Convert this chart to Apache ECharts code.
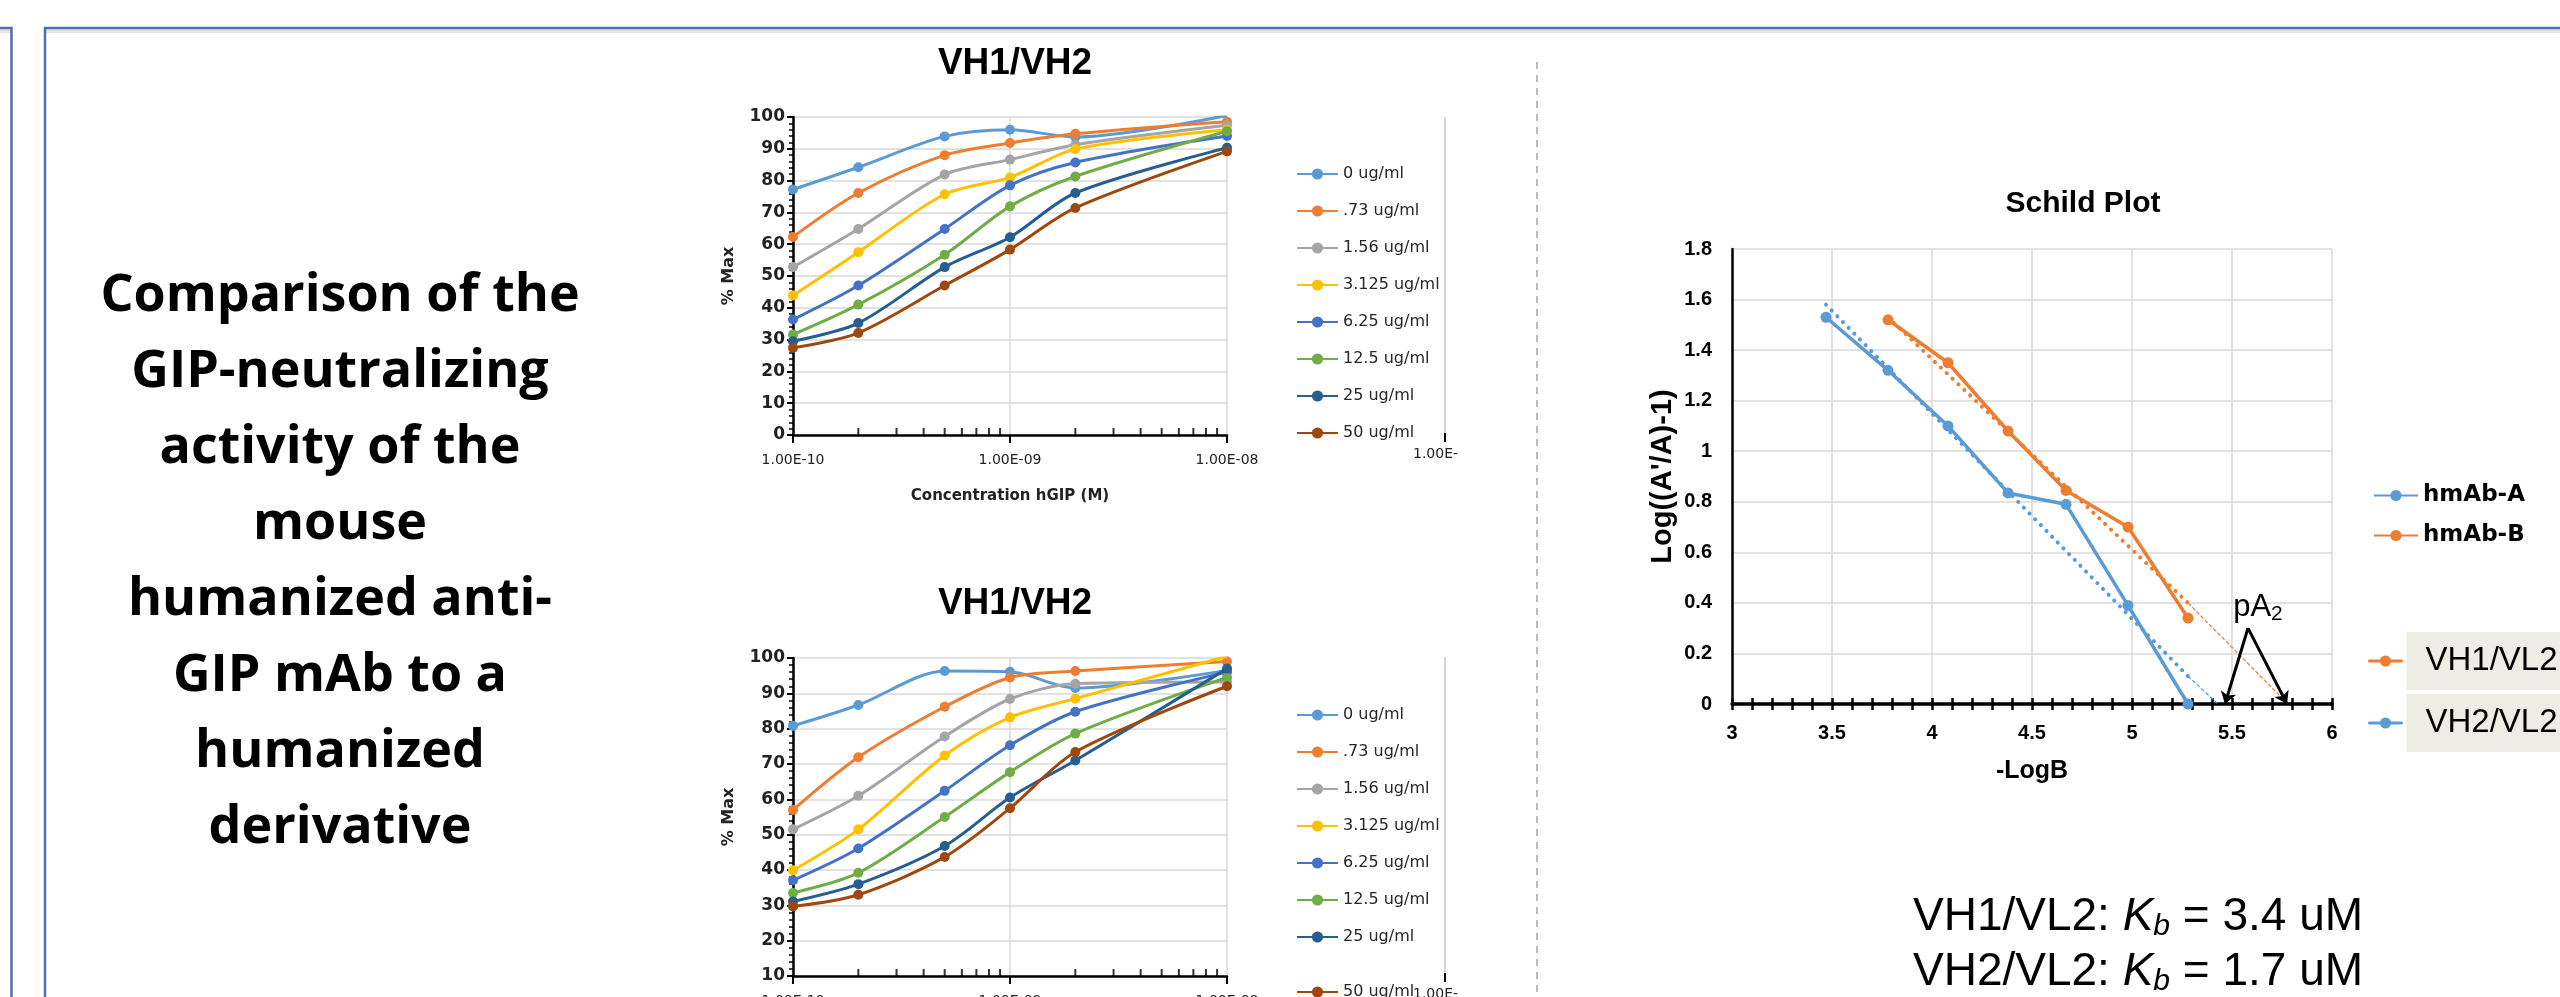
<!DOCTYPE html>
<html>
<head>
<meta charset="utf-8">
<script src="https://cdn.jsdelivr.net/npm/echarts@6/dist/echarts.min.js"></script>
<style>
  html, body { margin: 0; padding: 0; background: #fff; }
  #main { width: 2560px; height: 997px; }
</style>
</head>
<body>
<div id="main"></div>
<script>
// concentrations of hGIP (M) on the log axis
const concM = [1e-10, 2e-10, 5e-10, 1e-9, 2e-9, 1e-8];
const doseNames = ['0 ug/ml', '.73 ug/ml', '1.56 ug/ml', '3.125 ug/ml', '6.25 ug/ml', '12.5 ug/ml', '25 ug/ml', '50 ug/ml'];

// upper VH1/VH2 panel, % Max
const top_0 = [77.2, 84.2, 93.9, 96.0, 93.7, 100.5];
const top_073 = [62.3, 76.1, 88.0, 91.8, 94.7, 98.5];
const top_156 = [52.8, 64.8, 81.9, 86.6, 91.3, 97.4];
const top_3125 = [43.9, 57.5, 75.7, 81.0, 89.9, 96.0];
const top_625 = [36.3, 47.0, 64.8, 78.5, 85.7, 94.0];
const top_125 = [31.6, 41.0, 56.7, 71.9, 81.3, 95.5];
const top_25 = [29.5, 35.2, 52.8, 62.2, 76.1, 90.3];
const top_50 = [27.4, 32.1, 47.0, 58.3, 71.4, 89.2];

// lower VH1/VH2 panel, % Max
const bot_0 = [80.8, 86.7, 96.3, 96.1, 91.5, 96.5];
const bot_073 = [57.0, 71.9, 86.2, 94.5, 96.3, 99.0];
const bot_156 = [51.5, 61.0, 77.8, 88.4, 92.7, 93.2];
const bot_3125 = [39.9, 51.5, 72.4, 83.2, 88.5, 100.5];
const bot_625 = [37.1, 46.1, 62.4, 75.3, 84.8, 96.0];
const bot_125 = [33.5, 39.2, 55.0, 67.7, 78.6, 94.5];
const bot_25 = [31.1, 36.0, 46.8, 60.5, 71.0, 97.0];
const bot_50 = [29.7, 33.0, 43.7, 57.5, 73.4, 92.0];

// log-axis minor ticks (2..9 of each decade)
const logMinorTicks = [2e-10, 3e-10, 4e-10, 5e-10, 6e-10, 7e-10, 8e-10, 9e-10,
  2e-9, 3e-9, 4e-9, 5e-9, 6e-9, 7e-9, 8e-9, 9e-9];

// Schild plot
const logB_A = [3.47, 3.78, 4.08, 4.38, 4.67, 4.98, 5.28];
const schild_A = [1.53, 1.32, 1.10, 0.835, 0.79, 0.39, 0.0];
const logB_B = [3.78, 4.08, 4.38, 4.67, 4.98, 5.28];
const schild_B = [1.52, 1.35, 1.08, 0.845, 0.70, 0.34];
const trendA = [[3.47, 1.58], [5.28, 0.11]];
const trendA_ext = [[5.28, 0.11], [5.43, 0]];
const trendB = [[3.78, 1.53], [5.28, 0.40]];
const trendB_ext = [[5.28, 0.40], [5.78, 0]];
const pA2Apex = [5.58, 0.30];
const pA2Ends = [[5.465, 0], [5.775, 0]];

const doseColors = ['#5b9bd5', '#ed7d31', '#a5a5a5', '#ffc000', '#4472c4', '#70ad47', '#255e91', '#9e480e'];
const blue = '#5b9bd5';
const orange = '#ed7d31';

const topSets = [top_0, top_073, top_156, top_3125, top_625, top_125, top_25, top_50];
const botSets = [bot_0, bot_073, bot_156, bot_3125, bot_625, bot_125, bot_25, bot_50];

function sciLabel(v) {
  const e = Math.round(Math.log10(v));
  const m = v / Math.pow(10, e);
  return m.toFixed(2) + 'E' + (e < 0 ? '-' : '+') + String(Math.abs(e)).padStart(2, '0');
}

const excelLabel = { fontFamily: 'DejaVu Sans', color: '#222' };
const grayLine = { color: '#d9d9d9', width: 1.5 };

function logXAxis(gridIndex) {
  return {
    gridIndex: gridIndex,
    type: 'log',
    logBase: 10,
    min: 1e-10,
    max: 1e-8,
    splitNumber: 2,
    axisLine: { onZero: false, lineStyle: { color: '#000', width: 2.5 } },
    axisTick: { show: true, length: 8, lineStyle: { color: '#000', width: 2 } },
    splitLine: { show: true, lineStyle: grayLine },
    axisLabel: Object.assign({ formatter: sciLabel, margin: 18, fontSize: 14 }, excelLabel),
    name: 'Concentration hGIP (M)',
    nameLocation: 'middle',
    nameGap: 54,
    nameTextStyle: Object.assign({ fontSize: 15, fontWeight: 'bold' }, excelLabel)
  };
}

function pctYAxis(gridIndex, min) {
  return {
    gridIndex: gridIndex,
    type: 'value',
    min: min,
    max: 100,
    interval: 10,
    axisLine: { show: true, lineStyle: { color: '#000', width: 2.5 } },
    axisTick: { show: true, length: 6, lineStyle: { color: '#000', width: 2 } },
    minorTick: { show: true, splitNumber: 5, length: 4, lineStyle: { color: '#000', width: 1.5 } },
    splitLine: { lineStyle: grayLine },
    axisLabel: Object.assign({ margin: 8, fontSize: 17, fontWeight: 'bold' }, excelLabel),
    name: '% Max',
    nameLocation: 'middle',
    nameGap: 56,
    nameTextStyle: Object.assign({ fontSize: 16, fontWeight: 'bold' }, excelLabel)
  };
}

function doseSeries(sets, axisIndex) {
  return sets.map((vals, i) => ({
    name: doseNames[i],
    type: 'line',
    xAxisIndex: axisIndex,
    yAxisIndex: axisIndex,
    smooth: 0.3,
    symbol: 'circle',
    symbolSize: 10,
    data: concM.map((c, j) => [c, vals[j]]),
    itemStyle: { color: doseColors[i] },
    lineStyle: { color: doseColors[i], width: 3 },
    z: 3 + i * 0.1
  }));
}

function tickSeries(axisIndex, yBase) {
  return {
    type: 'scatter',
    xAxisIndex: axisIndex,
    yAxisIndex: axisIndex,
    silent: true,
    clip: false,
    symbol: 'rect',
    symbolSize: [2, 7],
    symbolOffset: [0, -3.5],
    itemStyle: { color: '#000' },
    data: logMinorTicks.map(v => [v, yBase]),
    z: 6
  };
}

function doseLegend(names, top) {
  return {
    data: names, orient: 'vertical', left: 1296, top: top, padding: 0,
    itemWidth: 41, itemHeight: 14, itemGap: 21, selectedMode: false,
    textStyle: { fontFamily: 'DejaVu Sans', fontSize: 16, color: '#262626' }
  };
}

const schildFont = { fontFamily: 'Liberation Sans', color: '#000', fontWeight: 'bold' };
const titleFont = { fontFamily: 'Liberation Sans', fontSize: 37, fontWeight: 'bold', color: '#000' };

const option = {
  animation: false,
  backgroundColor: '#fff',
  title: [
    { text: 'VH1/VH2', left: 1010, top: 40, textAlign: 'center', textStyle: titleFont },
    { text: 'VH1/VH2', left: 1010, top: 580, textAlign: 'center', textStyle: titleFont },
    { text: 'Schild Plot', left: 2078, top: 184, textAlign: 'center',
      textStyle: { fontFamily: 'Liberation Sans', fontSize: 30, fontWeight: 'bold', color: '#000' } }
  ],
  grid: [
    { left: 793, top: 117, width: 434, height: 318, outerBoundsMode: 'none' },
    { left: 793, top: 658, width: 434, height: 318, outerBoundsMode: 'none' },
    { left: 1732, top: 249, width: 600, height: 455, outerBoundsMode: 'none' }
  ],
  xAxis: [
    logXAxis(0),
    logXAxis(1),
    {
      gridIndex: 2, type: 'value', min: 3, max: 6, interval: 0.5, position: 'bottom',
      axisLine: { onZero: false, lineStyle: { color: '#000', width: 3.5 } },
      axisTick: { show: true, length: 6, lineStyle: { color: '#000', width: 2.5 } },
      minorTick: { show: true, splitNumber: 5, length: 6, lineStyle: { color: '#000', width: 2.5 } },
      splitLine: { show: true, lineStyle: grayLine },
      axisLabel: Object.assign({ margin: 19, fontSize: 20 }, schildFont),
      name: '-LogB', nameLocation: 'middle', nameGap: 55,
      nameTextStyle: Object.assign({ fontSize: 25 }, schildFont)
    },
    {
      gridIndex: 2, type: 'value', min: 3, max: 6, interval: 0.5, position: 'bottom',
      axisLine: { show: false },
      axisTick: { show: true, inside: true, length: 6, lineStyle: { color: '#000', width: 2.5 } },
      minorTick: { show: true, splitNumber: 5, length: 6, lineStyle: { color: '#000', width: 2.5 } },
      splitLine: { show: false },
      axisLabel: { show: false }
    }
  ],
  yAxis: [
    pctYAxis(0, 0),
    pctYAxis(1, 10),
    {
      gridIndex: 2, type: 'value', min: 0, max: 1.8, interval: 0.2,
      axisLine: { show: true, lineStyle: { color: '#000', width: 2.5 } },
      axisTick: { show: false },
      splitLine: { lineStyle: grayLine },
      axisLabel: Object.assign({ margin: 20, fontSize: 20,
        formatter: v => String(parseFloat(v.toFixed(1))) }, schildFont),
      name: "Log((A'/A)-1)", nameLocation: 'middle', nameGap: 55,
      nameTextStyle: Object.assign({ fontSize: 29 }, schildFont)
    }
  ],
  legend: [
    doseLegend(doseNames, 166),
    doseLegend(doseNames.slice(0, 7), 707),
    doseLegend(doseNames.slice(7), 984),
    {
      data: ['hmAb-A', 'hmAb-B'], orient: 'vertical', left: 2373, top: 484, padding: 0,
      itemWidth: 44, itemHeight: 14, itemGap: 17, selectedMode: false,
      textStyle: { fontFamily: 'DejaVu Sans', fontSize: 23, fontWeight: 'bold', color: '#000' }
    },
    {
      data: ['VH1/VL2', 'VH2/VL2'], orient: 'vertical', left: 2368, top: 632, padding: 0,
      itemWidth: 32, itemHeight: 14, itemGap: 4, selectedMode: false,
      lineStyle: { type: 'solid', width: 3 },
      textStyle: { fontFamily: 'Liberation Sans', fontSize: 33, color: '#000', lineHeight: 40,
        backgroundColor: '#eeede5', padding: [9, 80, 9, 19] }
    }
  ],
  series: [].concat(
    doseSeries(topSets, 0),
    doseSeries(botSets, 1),
    [tickSeries(0, 0), tickSeries(1, 10)],
    [
      {
        name: 'VH2/VL2', type: 'line', xAxisIndex: 2, yAxisIndex: 2,
        symbol: 'circle', symbolSize: 8, showSymbol: false,
        data: trendA, itemStyle: { color: blue },
        lineStyle: { color: blue, width: 4, type: [0.1, 8], cap: 'round' }, z: 2
      },
      {
        name: 'VH2 ext', type: 'line', xAxisIndex: 2, yAxisIndex: 2, showSymbol: false,
        data: trendA_ext, lineStyle: { color: blue, width: 1.2, type: [4, 2] }, z: 2
      },
      {
        name: 'VH1/VL2', type: 'line', xAxisIndex: 2, yAxisIndex: 2,
        symbol: 'circle', symbolSize: 8, showSymbol: false,
        data: trendB, itemStyle: { color: orange },
        lineStyle: { color: orange, width: 4, type: [0.1, 8], cap: 'round' }, z: 2
      },
      {
        name: 'VH1 ext', type: 'line', xAxisIndex: 2, yAxisIndex: 2, showSymbol: false,
        data: trendB_ext, lineStyle: { color: orange, width: 1.2, type: [4, 2] }, z: 2
      },
      {
        name: 'hmAb-A', type: 'line', xAxisIndex: 2, yAxisIndex: 2,
        symbol: 'circle', symbolSize: 11,
        data: logB_A.map((x, i) => [x, schild_A[i]]),
        itemStyle: { color: blue }, lineStyle: { color: blue, width: 3.5 }, z: 3
      },
      {
        name: 'hmAb-B', type: 'line', xAxisIndex: 2, yAxisIndex: 2,
        symbol: 'circle', symbolSize: 11,
        data: logB_B.map((x, i) => [x, schild_B[i]]),
        itemStyle: { color: orange }, lineStyle: { color: orange, width: 3.5 }, z: 3
      },
      {
        name: 'pA2', type: 'line', xAxisIndex: 2, yAxisIndex: 2, data: [], z: 4,
        markLine: {
          silent: true, symbol: ['none', 'arrow'], symbolSize: 12,
          lineStyle: { color: '#000', width: 3, type: 'solid' },
          label: { show: false },
          data: pA2Ends.map(e => [{ coord: pA2Apex }, { coord: e }])
        },
        markPoint: {
          silent: true, symbol: 'circle', symbolSize: 0,
          data: [{ coord: [5.63, 0.38] }],
          label: {
            show: true, position: 'inside', formatter: '{a|pA}{s|2}',
            rich: {
              a: { fontFamily: 'Liberation Sans', fontSize: 31, color: '#000', lineHeight: 34 },
              s: { fontFamily: 'Liberation Sans', fontSize: 21, color: '#000', lineHeight: 14, verticalAlign: 'bottom' }
            }
          }
        }
      }
    ]
  ),
  graphic: [
    // panel borders
    { type: 'line', shape: { x1: 0, y1: 31, x2: 11.5, y2: 31 }, style: { stroke: 'rgba(0,0,0,0.1)', lineWidth: 4 } },
    { type: 'line', shape: { x1: 45, y1: 31, x2: 2560, y2: 31 }, style: { stroke: 'rgba(0,0,0,0.1)', lineWidth: 4 } },
    { type: 'polyline', shape: { points: [[0, 28], [11.5, 28], [11.5, 997]] }, style: { stroke: '#4a72a6', lineWidth: 2.5, fill: null } },
    { type: 'polyline', shape: { points: [[45, 997], [45, 28], [2560, 28]] }, style: { stroke: '#4a72a6', lineWidth: 2.5, fill: null } },
    // separator
    { type: 'line', shape: { x1: 1537, y1: 62, x2: 1537, y2: 997 }, style: { stroke: '#a6a6a6', lineWidth: 1.5, lineDash: [7, 6] } },
    // stray frame pieces behind the legends
    { type: 'line', shape: { x1: 1445, y1: 117, x2: 1445, y2: 440 }, style: { stroke: '#c8c8c8', lineWidth: 1.5 } },
    { type: 'line', shape: { x1: 1445, y1: 433, x2: 1445, y2: 442 }, style: { stroke: '#000', lineWidth: 2 } },
    { type: 'text', style: { text: '1.00E-', x: 1413, y: 454, font: '14px "DejaVu Sans"', fill: '#222', textVerticalAlign: 'middle' } },
    { type: 'line', shape: { x1: 1445, y1: 657, x2: 1445, y2: 980 }, style: { stroke: '#c8c8c8', lineWidth: 1.5 } },
    { type: 'line', shape: { x1: 1445, y1: 973, x2: 1445, y2: 982 }, style: { stroke: '#000', lineWidth: 2 } },
    { type: 'text', style: { text: '1.00E-', x: 1413, y: 994, font: '14px "DejaVu Sans"', fill: '#222', textVerticalAlign: 'middle' } },
    // left caption
    {
      type: 'text',
      style: {
        text: 'Comparison of the\nGIP-neutralizing\nactivity of the\nmouse\nhumanized anti-\nGIP mAb to a\nhumanized\nderivative',
        x: 340, y: 258, textAlign: 'center', textVerticalAlign: 'top',
        font: 'bold 52px "Open Sans"', lineHeight: 76, fill: '#000'
      }
    },
    // Kb notes
    {
      type: 'text',
      style: {
        text: '{n|VH1/VL2: }{k|K}{b|b}{n| = 3.4 uM}', x: 1913, y: 892, textVerticalAlign: 'top',
        rich: {
          n: { fontFamily: 'Liberation Sans', fontSize: 46, lineHeight: 50, fill: '#000' },
          k: { fontFamily: 'Liberation Sans', fontSize: 46, fontStyle: 'italic', lineHeight: 50, fill: '#000' },
          b: { fontFamily: 'Liberation Sans', fontSize: 30, fontStyle: 'italic', lineHeight: 18, verticalAlign: 'bottom', fill: '#000' }
        }
      }
    },
    {
      type: 'text',
      style: {
        text: '{n|VH2/VL2: }{k|K}{b|b}{n| = 1.7 uM}', x: 1913, y: 947, textVerticalAlign: 'top',
        rich: {
          n: { fontFamily: 'Liberation Sans', fontSize: 46, lineHeight: 50, fill: '#000' },
          k: { fontFamily: 'Liberation Sans', fontSize: 46, fontStyle: 'italic', lineHeight: 50, fill: '#000' },
          b: { fontFamily: 'Liberation Sans', fontSize: 30, fontStyle: 'italic', lineHeight: 18, verticalAlign: 'bottom', fill: '#000' }
        }
      }
    }
  ]
};

const chart = echarts.init(document.getElementById('main'));
chart.setOption(option);
</script>
</body>
</html>
